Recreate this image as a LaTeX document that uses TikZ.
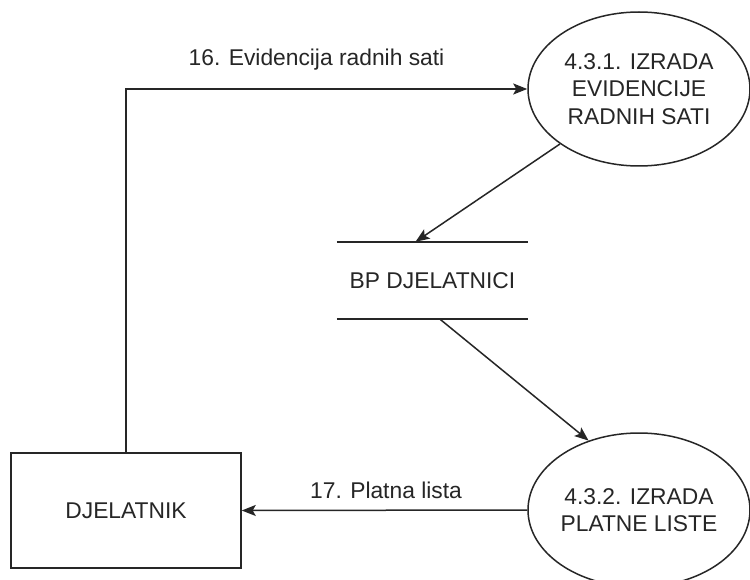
\documentclass[tikz,border=0pt]{standalone}
\usepackage{fontspec}
\setmainfont{Liberation Sans}
\usetikzlibrary{shapes.geometric,arrows.meta,calc}
\begin{document}
\begin{tikzpicture}[x=1pt,y=-1pt,
  every node/.style={font=\fontsize{22.8}{27.5}\selectfont, text=black!85},
  line/.style={line width=1.5pt, draw=black!85},
  flow/.style={line, -{Stealth[length=14pt,width=11pt,inset=3pt]}},
  proc/.style={ellipse, draw=black!85, line width=1.5pt, minimum width=222pt, minimum height=154pt, inner sep=0pt, align=center, fill=white},
  entity/.style={rectangle, draw=black!85, line width=1.5pt, minimum width=230pt, minimum height=115pt, inner sep=0pt},
  storebox/.style={rectangle, minimum width=191pt, minimum height=77pt, inner sep=0pt}
]
\useasboundingbox (0,0) rectangle (750,580);
\clip (0,0) rectangle (750,580);
\fill[white] (0,0) rectangle (750,580);

\node[proc] (e1) at (639,89) {4.3.1. IZRADA\\EVIDENCIJE\\RADNIH SATI};
\node[proc] (e2) at (639,510) {4.3.2. IZRADA\\PLATNE LISTE};
\node[entity] (djel) at (126,510.5) {DJELATNIK};
\node[storebox] (st) at (432.5,280.5) {BP DJELATNICI};
\draw[line] (st.north west) -- (st.north east);
\draw[line] (st.south west) -- (st.south east);

\node (l16) at (316.5,60) {16. Evidencija radnih sati};
\node (l17) at (386,490) {17. Platna lista};

\draw[flow] (djel.north) |- (e1.west);
\draw[flow] (e2.west) -- (djel.east);
\draw[flow] (e1.south west) -- ($(st.north)+(-17,0)$);
\draw[flow] ($(st.south)+(7.5,0)$) -- (e2.126);
\end{tikzpicture}
\end{document}
